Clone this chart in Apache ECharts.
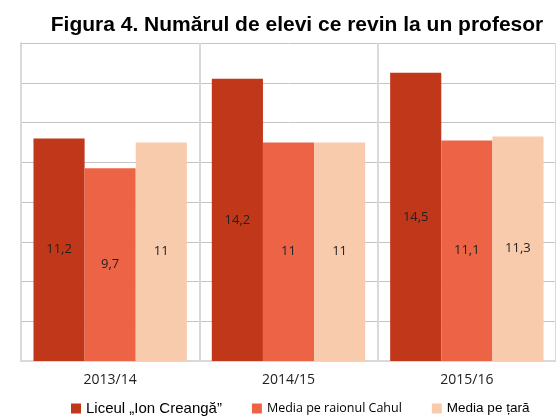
<!DOCTYPE html>
<html>
<head>
<meta charset="utf-8">
<script src="https://cdn.jsdelivr.net/npm/echarts@6/dist/echarts.min.js"></script>
<style>
  html, body { margin: 0; padding: 0; background: #fff; }
  #main { width: 556px; height: 417px; }
</style>
</head>
<body>
<div id="main"></div>
<script>
// date
const years = ['2013/14', '2014/15', '2015/16'];
const liceu = [11.2, 14.2, 14.5];
const raion = [9.7, 11, 11.1];
const tara = [11, 11, 11.3];

const culori = ['#C1371A', '#EC6445', '#F8CBAD'];

const chart = echarts.init(document.getElementById('main'));

const eticheta = {
  show: true,
  position: 'inside',
  color: '#222',
  fontFamily: 'Open Sans',
  fontSize: 13,
  formatter: p => String(p.value).replace('.', ',')
};

const option = {
  animation: false,
  title: {
    text: 'Figura 4. Numărul de elevi ce revin la un profesor',
    left: 292,
    textAlign: 'center',
    top: 10,
    textStyle: { fontFamily: 'Liberation Sans', fontWeight: 'bold', fontSize: 21, color: '#000' }
  },
  grid: { left: 21, top: 43, width: 546, height: 318 },
  legend: {
    left: 66,
    top: 396,
    itemWidth: 10,
    itemHeight: 10,
    itemGap: 30,
    icon: 'rect',
    data: [
      { name: 'Liceul „Ion Creangă”', textStyle: { fontFamily: 'Liberation Sans', fontSize: 15, color: '#000' } },
      { name: 'Media pe raionul Cahul', textStyle: { fontFamily: 'Open Sans', fontSize: 12.5, color: '#000' } },
      { name: 'Media pe țară', textStyle: { fontFamily: 'Liberation Sans', fontSize: 13.5, color: '#000' } }
    ]
  },
  xAxis: {
    type: 'category',
    data: years,
    axisLine: { show: true, lineStyle: { color: '#d9d9d9', width: 2 } },
    axisTick: { show: false },
    splitLine: { show: true, lineStyle: { color: '#d9d9d9', width: 2 } },
    axisLabel: { fontFamily: 'Open Sans', fontSize: 14, color: '#222', margin: 12 }
  },
  yAxis: {
    type: 'value',
    min: 0,
    max: 16,
    interval: 2,
    axisLabel: { show: false },
    axisLine: { show: true, lineStyle: { color: '#d9d9d9', width: 2 } },
    axisTick: { show: false },
    splitLine: { lineStyle: { color: '#c4c4c4', width: 1 } }
  },
  series: [
    { name: 'Liceul „Ion Creangă”', type: 'bar', data: liceu, barGap: '0%', barCategoryGap: '14%', itemStyle: { color: culori[0] }, label: eticheta },
    { name: 'Media pe raionul Cahul', type: 'bar', data: raion, itemStyle: { color: culori[1] }, label: eticheta },
    { name: 'Media pe țară', type: 'bar', data: tara, itemStyle: { color: culori[2] }, label: eticheta }
  ]
};

chart.setOption(option);
</script>
</body>
</html>
